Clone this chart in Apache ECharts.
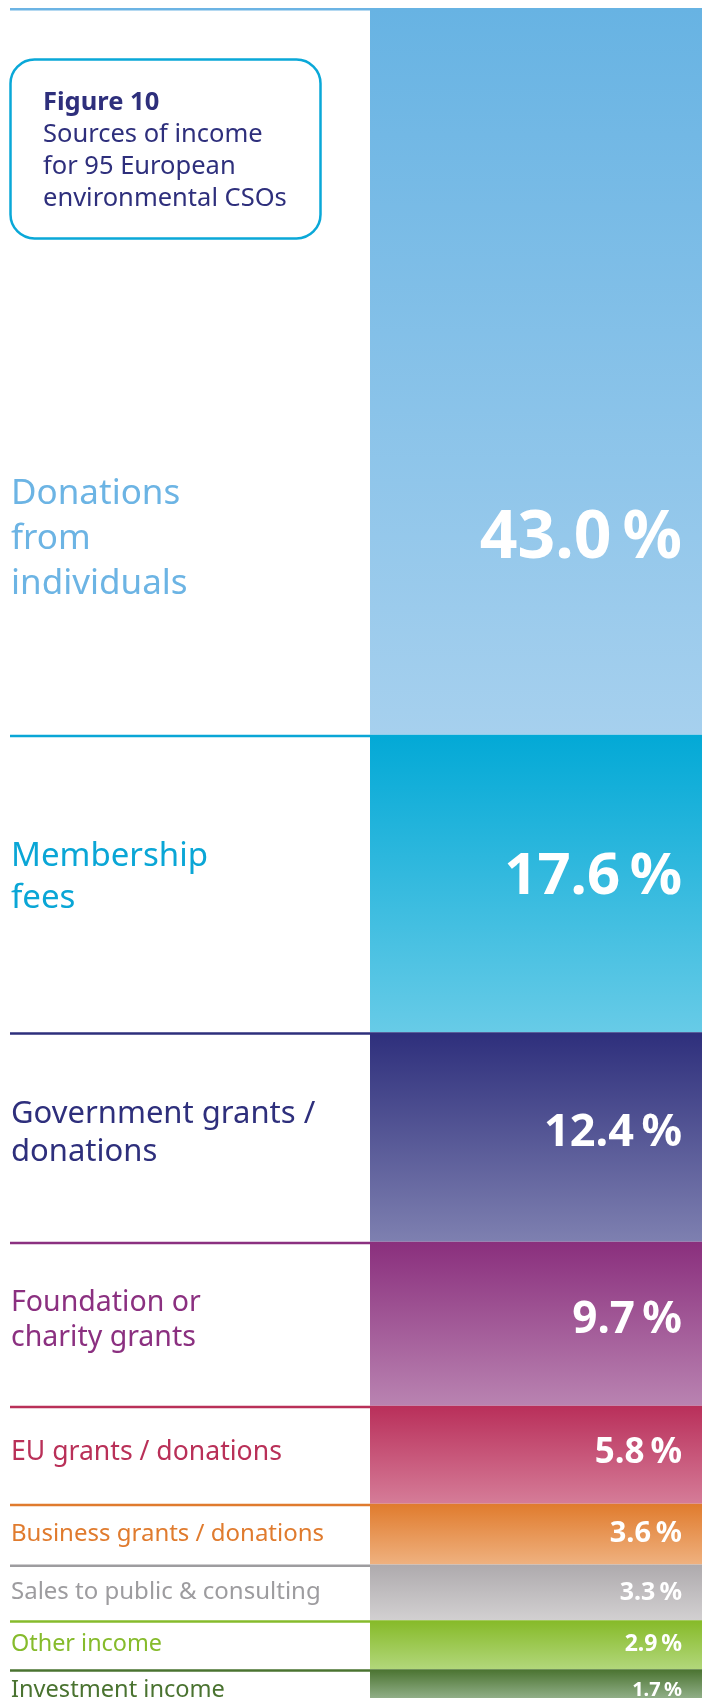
<!DOCTYPE html>
<html>
<head>
<meta charset="utf-8">
<title>Sources of income</title>
<script src="https://cdn.jsdelivr.net/npm/echarts@6/dist/echarts.min.js"></script>
<style>
  html, body { margin: 0; padding: 0; background: #fff; }
  #main { width: 702px; height: 1705px; }
</style>
</head>
<body>
<div id="main"></div>
<script>
// data
var categories = [
  'Donations\nfrom\nindividuals',
  'Membership\nfees',
  'Government grants /\ndonations',
  'Foundation or\ncharity grants',
  'EU grants / donations',
  'Business grants / donations',
  'Sales to public & consulting',
  'Other income',
  'Investment income'
];
var shares = [43.0, 17.6, 12.4, 9.7, 5.8, 3.6, 3.3, 2.9, 1.7];

// styles
var topColors = ['#67b3e3', '#03a9d6', '#2e2f7c', '#8a2f7d', '#b92f5a', '#e07b2d', '#aeaaad', '#86ba28', '#4a7330'];
var bottomColors = ['#a6d0ee', '#67cbe7', '#7e80b0', '#b983b1', '#d57c98', '#efb17f', '#d2d0d1', '#b2d77b', '#90ae87'];
var textColors = ['#6cb4e4', '#0aa6d6', '#2e2f7c', '#8b3080', '#b93058', '#e07b2e', '#9d9c9f', '#86bb2c', '#4a7330'];
var nameSizes = [35, 33, 31, 28.5, 26.6, 24, 24, 23.4, 23.6];
var nameLineHeights = [45, 42, 38, 35, 30, 30, 28, 28, 28];
var valueSizes = [66, 58, 45, 44, 35, 29, 25, 23, 20];
var labelShift = [168, -6, -4, -3, -2, 0, 0, 0, 7];

var starts = [];
var acc = 0;
shares.forEach(function (v) { starts.push(acc); acc += v; });

var chart = echarts.init(document.getElementById('main'));

var series = shares.map(function (v, i) {
  return {
    type: 'bar',
    stack: 'total',
    xAxisIndex: 0,
    yAxisIndex: 0,
    barWidth: '100%',
    data: [v],
    silent: true,
    itemStyle: {
      color: new echarts.graphic.LinearGradient(0, 0, 0, 1, [
        { offset: 0, color: topColors[i] },
        { offset: 1, color: bottomColors[i] }
      ])
    },
    label: {
      show: true,
      position: 'insideRight',
      distance: 20,
      offset: [0, labelShift[i]],
      formatter: v.toFixed(1) + '\u2009%',
      color: '#fff',
      fontFamily: 'Noto Sans',
      fontWeight: 'bold',
      fontSize: valueSizes[i]
    }
  };
});

// left side: rule at the top of each band + category name
series.push({
  type: 'custom',
  xAxisIndex: 1,
  yAxisIndex: 1,
  clip: false,
  silent: true,
  data: shares.map(function (v, i) { return [starts[i], starts[i] + v, i]; }),
  renderItem: function (params, api) {
    var s = api.value(0), e = api.value(1), i = api.value(2);
    var pL = api.coord([0, s]);
    var pR = api.coord([1, s]);
    var yMid = api.coord([0, (s + e) / 2])[1] + labelShift[i];
    return {
      type: 'group',
      children: [
        {
          type: 'line',
          shape: { x1: pL[0], y1: pL[1] + 1.25, x2: pR[0], y2: pL[1] + 1.25 },
          style: { stroke: textColors[i], lineWidth: 2.5 }
        },
        {
          type: 'text',
          x: pL[0] + 1,
          y: yMid,
          style: {
            text: categories[i],
            fill: textColors[i],
            fontFamily: 'Noto Sans',
            fontSize: nameSizes[i],
            lineHeight: nameLineHeights[i],
            align: 'left',
            verticalAlign: 'middle'
          }
        }
      ]
    };
  }
});

var option = {
  backgroundColor: '#fff',
  animation: false,
  title: {
    text: 'Figure 10',
    subtext: 'Sources of income\nfor 95 European\nenvironmental CSOs',
    left: 10,
    top: 59,
    padding: [28, 34, 24, 33],
    itemGap: 0,
    borderColor: '#0aa8d8',
    borderWidth: 2.5,
    borderRadius: 24,
    backgroundColor: '#fff',
    textStyle: {
      fontFamily: 'Noto Sans',
      fontSize: 25.5,
      fontWeight: 'bold',
      lineHeight: 32,
      color: '#2e2f7c'
    },
    subtextStyle: {
      fontFamily: 'Noto Sans',
      fontSize: 25.5,
      lineHeight: 32,
      color: '#2e2f7c'
    }
  },
  grid: [
    { left: 370, right: 0, top: 8, bottom: 7 },
    { left: 10, right: 332, top: 8, bottom: 7 }
  ],
  xAxis: [
    { type: 'category', gridIndex: 0, data: ['income'], show: false },
    { type: 'value', gridIndex: 1, min: 0, max: 1, show: false }
  ],
  yAxis: [
    { type: 'value', gridIndex: 0, inverse: true, min: 0, max: 100, show: false },
    { type: 'value', gridIndex: 1, inverse: true, min: 0, max: 100, show: false }
  ],
  series: series
};

chart.setOption(option);
</script>
</body>
</html>
